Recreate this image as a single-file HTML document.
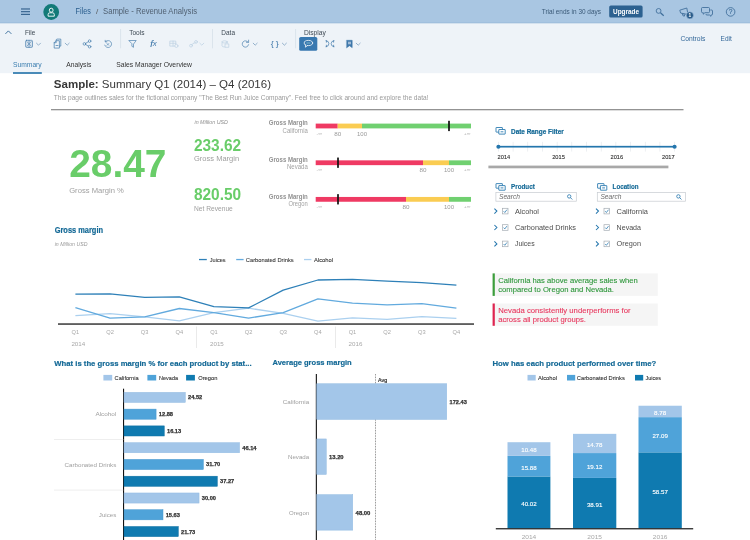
<!DOCTYPE html>
<html><head><meta charset="utf-8"><title>Sample - Revenue Analysis</title>
<style>
html,body{margin:0;padding:0;}
body{width:750px;height:540px;overflow:hidden;background:#fff;position:relative;font-family:"Liberation Sans",sans-serif;}
svg{position:absolute;left:0;top:0;display:block;will-change:transform;}
text{white-space:pre;}
</style></head><body>
<svg width="750" height="540" viewBox="0 0 750 540" font-family="'Liberation Sans', sans-serif">

<rect x="0.00" y="23.00" width="750.00" height="50.20" fill="#eef3f8" />
<rect x="0.00" y="0.00" width="750.00" height="23.20" fill="#a9c6e2" />
<rect x="0.00" y="22.20" width="750.00" height="1.00" fill="#9fbedb" />
<rect x="21.00" y="8.40" width="9.00" height="1.15" fill="#35628e" />
<rect x="21.00" y="11.10" width="9.00" height="1.15" fill="#35628e" />
<rect x="21.00" y="13.80" width="9.00" height="1.15" fill="#35628e" />
<circle cx="51.2" cy="12" r="7.9" fill="#137a78"/>
<ellipse cx="51.2" cy="10.2" rx="1.9" ry="2" fill="none" stroke="#fff" stroke-width="0.9"/>
<path d="M48.1 16.2 v-1.7 a1.7 1.7 0 0 1 1.7 -1.7 h2.8 a1.7 1.7 0 0 1 1.7 1.7 v1.7 z" fill="none" stroke="#fff" stroke-width="0.9"/>
<text x="75.50" y="14" font-size="8.2" fill="#285c8c" textLength="15.30" lengthAdjust="spacingAndGlyphs" >Files</text>
<text x="95.90" y="14" font-size="8" fill="#555" >/</text>
<text x="103.00" y="14" font-size="8.2" fill="#4f5f70" textLength="94.00" lengthAdjust="spacingAndGlyphs" >Sample - Revenue Analysis</text>
<text x="541.70" y="14" font-size="6.8" fill="#3b5a78" textLength="59.30" lengthAdjust="spacingAndGlyphs" >Trial ends in 30 days</text>
<rect x="609.20" y="5.40" width="33.40" height="12.20" fill="#2c6190" rx="1.6"/>
<text x="613.00" y="14" font-size="6.8" fill="#fff" font-weight="bold" textLength="26.00" lengthAdjust="spacingAndGlyphs" >Upgrade</text>
<g fill="none" stroke="#3d6d99" stroke-width="0.85">
<circle cx="658.6" cy="10.9" r="2.4"/><path d="M660.5 12.8 L663.7 15.7" stroke-width="1.2"/>
<path d="M679.8 10.2 l7 -2.2 l1.2 6.6 l-7.4 -1.6 z M682 13.2 l1.2 2.8 h1.5 l-0.9 -2.4"/>
<circle cx="689.9" cy="15.3" r="3.6" fill="#2a5c8a" stroke="#a9c6e2" stroke-width="0.6"/>
<path d="M702.5 7.5 h6 a1 1 0 0 1 1 1 v3.2 a1 1 0 0 1 -1 1 h-3.6 l-1.6 1.5 v-1.5 h-0.8 a1 1 0 0 1 -1 -1 v-3.2 a1 1 0 0 1 1 -1 z"/>
<path d="M710.3 10 h1.2 a1 1 0 0 1 1 1 v3 a1 1 0 0 1 -1 1 h-0.6 v1.3 l-1.4 -1.3 h-2.6 a1 1 0 0 1 -1 -1"/>
<circle cx="730.6" cy="11.9" r="4.3"/>
</g>
<text x="689.90" y="17" font-size="4.8" fill="#fff" font-weight="bold" text-anchor="middle" >1</text>
<text x="730.60" y="14" font-size="6.6" fill="#3d6d99" stroke="#3d6d99" stroke-width="0.15" text-anchor="middle" >?</text>
<text x="25.00" y="35" font-size="7.5" fill="#3f4a55" textLength="10.30" lengthAdjust="spacingAndGlyphs" >File</text>
<text x="129.20" y="35" font-size="7.5" fill="#3f4a55" textLength="15.30" lengthAdjust="spacingAndGlyphs" >Tools</text>
<text x="221.30" y="35" font-size="7.5" fill="#3f4a55" textLength="13.70" lengthAdjust="spacingAndGlyphs" >Data</text>
<text x="303.90" y="35" font-size="7.5" fill="#3f4a55" textLength="21.90" lengthAdjust="spacingAndGlyphs" >Display</text>
<text x="680.40" y="41" font-size="7" fill="#35699a" textLength="25.00" lengthAdjust="spacingAndGlyphs" >Controls</text>
<text x="720.60" y="41" font-size="7" fill="#35699a" textLength="11.20" lengthAdjust="spacingAndGlyphs" >Edit</text>
<rect x="120.35" y="29.00" width="0.70" height="19.30" fill="#d3dde7" />
<rect x="212.05" y="29.00" width="0.70" height="19.30" fill="#d3dde7" />
<rect x="295.35" y="29.00" width="0.70" height="19.30" fill="#d3dde7" />
<rect x="299.20" y="36.90" width="18.10" height="13.90" fill="#3878b0" rx="1.6"/>
<g fill="none" stroke="#3f78aa" stroke-width="0.65" stroke-linecap="round" stroke-linejoin="round">
<path d="M5.7 33.6 l2.7 -2.7 l2.7 2.7" stroke="#2f6796" stroke-width="0.9"/>
<rect x="25.6" y="40.3" width="6.9" height="7.1" rx="1" fill="#d9e4ee"/><path d="M26.9 41.6 l4.3 4.5 M31.2 41.6 l-4.3 4.5 M29.05 40.3 v7.1" stroke-width="0.55"/>
<path d="M36.5 43.2 l2 2 l2 -2" stroke="#6b93b8" stroke-width="0.7"/>
<path d="M54.2 47.699999999999996 v-5 l2 -2 h3.2 v7 z M56.2 40.699999999999996 v2 h-2 M55.8 40.1 l1 -1 h4 v7 h-1.2 M56 45.5 h2" stroke-width="0.7"/>
<path d="M65.2 43.2 l2 2 l2 -2" stroke="#6b93b8" stroke-width="0.7"/>
<circle cx="84.4" cy="43.9" r="1.3"/><circle cx="89.6" cy="41.1" r="1.3"/><circle cx="89.6" cy="46.699999999999996" r="1.3"/><path d="M85.6 43.3 l2.8 -1.6 M85.6 44.5 l2.8 1.6"/>
<path d="M105.6 41.5 a3.5 3.5 0 1 1 -0.9 3.6 M105.2 40.3 v1.6 h1.6"/><path d="M107 43.5 l1.8 1.8 M108.8 43.5 l-1.8 1.8" stroke-width="0.6"/>
<path d="M129.2 40.5 h7 l-2.7 3.6 v3.2 l-1.6 -1 v-2.2 z"/>
<g stroke="#b9cfe2"><rect x="170.2" y="41.1" width="5.6" height="5" /><path d="M170.2 43.3 h5.6 M173 41.1 v5"/><circle cx="176.4" cy="45.9" r="1.6" fill="#eef3f8"/></g>
<g stroke="#b9cfe2"><circle cx="191" cy="45.699999999999996" r="1.4"/><circle cx="196" cy="41.9" r="1.4"/><path d="M192 44.699999999999996 l1 -1.4 h1.4 l0.8 -0.8"/></g>
<path d="M199.8 43.2 l2 2 l2 -2" stroke="#b9cfe2" stroke-width="0.7"/>
<g stroke="#b9cfe2"><ellipse cx="224.6" cy="41.9" rx="2.6" ry="1.1"/><path d="M222 41.9 v4 a2.6 1.1 0 0 0 2.6 1.1 M227.2 41.9 v1.4"/><rect x="225.4" y="43.9" width="3.4" height="3.4" fill="#eef3f8"/></g>
<path d="M248.2 42.3 a3.2 3.2 0 1 0 0.4 2.4 M248.6 40.1 v2.2 h-2.2"/>
<path d="M253.2 43.2 l2 2 l2 -2" stroke="#6b93b8" stroke-width="0.7"/>
<path d="M282.4 43.2 l2 2 l2 -2" stroke="#6b93b8" stroke-width="0.7"/>
<ellipse cx="308.4" cy="43" rx="4.2" ry="2.6" stroke="#fff" stroke-width="0.75"/><path d="M305.6 45 l-0.2 2.2 l2.2 -1.7" stroke="#fff" stroke-width="0.75" fill="#3878b0"/><path d="M306.8 43 h3.2" stroke="#9fd0d8" stroke-width="0.7"/>
<path d="M326 40.7 q2.9 0.2 2.9 3 q0 2.8 -2.9 3 M334 40.7 q-2.9 0.2 -2.9 3 q0 2.8 2.9 3 M326.4 42.2 v-1.6 M326.4 45.2 v1.6 M333.6 42.2 v-1.6 M333.6 45.2 v1.6" stroke-width="0.7"/>
<path d="M346.8 40.3 h5.4 v7.4 l-2.7 -2 l-2.7 2 z" fill="#3f78aa" stroke-width="0.5"/><rect x="348" y="41.699999999999996" width="3" height="2.6" fill="#9fbbd6" stroke="none"/>
<path d="M356.2 43.2 l2 2 l2 -2" stroke="#6b93b8" stroke-width="0.7"/>
</g>
<text x="150.00" y="47" font-size="9.4" fill="#3f78aa" font-style="italic" textLength="6.80" lengthAdjust="spacingAndGlyphs" >f<tspan font-size="6.8" dx="-0.2" dy="-1">x</tspan></text>
<text x="270.80" y="46" font-size="8" fill="#3f78aa" textLength="7.90" lengthAdjust="spacingAndGlyphs" >{&#8201;}</text>
<text x="13.00" y="67" font-size="7.5" fill="#3d7fb0" textLength="28.70" lengthAdjust="spacingAndGlyphs" >Summary</text>
<rect x="13.00" y="72.00" width="28.80" height="2.00" fill="#4a8bb8" />
<text x="66.30" y="67" font-size="7.5" fill="#333" textLength="25.00" lengthAdjust="spacingAndGlyphs" >Analysis</text>
<text x="116.20" y="67" font-size="7.5" fill="#333" textLength="75.80" lengthAdjust="spacingAndGlyphs" >Sales Manager Overview</text>
<text x="53.80" y="88" font-size="11.6" fill="#383838" textLength="217.20" lengthAdjust="spacingAndGlyphs" ><tspan font-weight="bold">Sample:</tspan> Summary Q1 (2014) &#8211; Q4 (2016)</text>
<text x="53.80" y="100" font-size="6.3" fill="#999" textLength="374.70" lengthAdjust="spacingAndGlyphs" >This page outlines sales for the fictional company "The Best Run Juice Company". Feel free to click around and explore the data!</text>
<rect x="51.00" y="109.05" width="632.50" height="1.25" fill="#8e8e8e" />
<text x="69.20" y="177" font-size="38.6" fill="#69cd69" font-weight="bold" textLength="97.30" lengthAdjust="spacingAndGlyphs" >28.47</text>
<text x="69.20" y="193" font-size="7" fill="#a0a0a0" textLength="54.70" lengthAdjust="spacingAndGlyphs" >Gross Margin %</text>
<text x="194.50" y="124" font-size="5.3" fill="#909090" font-style="italic" textLength="33.40" lengthAdjust="spacingAndGlyphs" >in Million USD</text>
<text x="193.90" y="151" font-size="15.6" fill="#69cd69" font-weight="bold" textLength="47.30" lengthAdjust="spacingAndGlyphs" >233.62</text>
<text x="194.00" y="161" font-size="6.6" fill="#a0a0a0" textLength="45.10" lengthAdjust="spacingAndGlyphs" >Gross Margin</text>
<text x="193.90" y="200" font-size="15.6" fill="#69cd69" font-weight="bold" textLength="47.30" lengthAdjust="spacingAndGlyphs" >820.50</text>
<text x="194.00" y="211" font-size="6.6" fill="#a0a0a0" textLength="38.80" lengthAdjust="spacingAndGlyphs" >Net Revenue</text>
<text x="268.80" y="125" font-size="6.7" fill="#929292" font-weight="bold" textLength="39.00" lengthAdjust="spacingAndGlyphs" >Gross Margin</text>
<text x="282.60" y="133" font-size="6.7" fill="#a2a2a2" textLength="25.20" lengthAdjust="spacingAndGlyphs" >California</text>
<rect x="315.70" y="123.60" width="22.00" height="4.80" fill="#ef3a63" />
<rect x="337.70" y="123.60" width="24.30" height="4.80" fill="#facc52" />
<rect x="362.00" y="123.60" width="109.00" height="4.80" fill="#70d070" />
<rect x="448.15" y="120.80" width="1.70" height="10.30" fill="#111" />
<text x="316.60" y="135" font-size="4.4" fill="#aaa" textLength="5.60" lengthAdjust="spacingAndGlyphs" >-&#8734;</text>
<text x="463.80" y="135" font-size="4.4" fill="#aaa" textLength="6.80" lengthAdjust="spacingAndGlyphs" >+&#8734;</text>
<text x="334.20" y="136" font-size="6.2" fill="#999" textLength="7.00" lengthAdjust="spacingAndGlyphs" >80</text>
<text x="357.00" y="136" font-size="6.2" fill="#999" textLength="10.00" lengthAdjust="spacingAndGlyphs" >100</text>
<text x="268.80" y="162" font-size="6.7" fill="#929292" font-weight="bold" textLength="39.00" lengthAdjust="spacingAndGlyphs" >Gross Margin</text>
<text x="287.00" y="169" font-size="6.7" fill="#a2a2a2" textLength="20.80" lengthAdjust="spacingAndGlyphs" >Nevada</text>
<rect x="315.70" y="160.35" width="107.30" height="4.80" fill="#ef3a63" />
<rect x="423.00" y="160.35" width="26.00" height="4.80" fill="#facc52" />
<rect x="449.00" y="160.35" width="22.00" height="4.80" fill="#70d070" />
<rect x="337.15" y="157.55" width="1.70" height="10.30" fill="#111" />
<text x="316.60" y="171" font-size="4.4" fill="#aaa" textLength="5.60" lengthAdjust="spacingAndGlyphs" >-&#8734;</text>
<text x="463.80" y="171" font-size="4.4" fill="#aaa" textLength="6.80" lengthAdjust="spacingAndGlyphs" >+&#8734;</text>
<text x="419.50" y="172" font-size="6.2" fill="#999" textLength="7.00" lengthAdjust="spacingAndGlyphs" >80</text>
<text x="444.00" y="172" font-size="6.2" fill="#999" textLength="10.00" lengthAdjust="spacingAndGlyphs" >100</text>
<text x="268.80" y="199" font-size="6.7" fill="#929292" font-weight="bold" textLength="39.00" lengthAdjust="spacingAndGlyphs" >Gross Margin</text>
<text x="288.40" y="206" font-size="6.7" fill="#a2a2a2" textLength="19.40" lengthAdjust="spacingAndGlyphs" >Oregon</text>
<rect x="315.70" y="196.95" width="90.30" height="4.80" fill="#ef3a63" />
<rect x="406.00" y="196.95" width="43.00" height="4.80" fill="#facc52" />
<rect x="449.00" y="196.95" width="22.00" height="4.80" fill="#70d070" />
<rect x="337.15" y="194.15" width="1.70" height="10.30" fill="#111" />
<text x="316.60" y="208" font-size="4.4" fill="#aaa" textLength="5.60" lengthAdjust="spacingAndGlyphs" >-&#8734;</text>
<text x="463.80" y="208" font-size="4.4" fill="#aaa" textLength="6.80" lengthAdjust="spacingAndGlyphs" >+&#8734;</text>
<text x="402.50" y="209" font-size="6.2" fill="#999" textLength="7.00" lengthAdjust="spacingAndGlyphs" >80</text>
<text x="444.00" y="209" font-size="6.2" fill="#999" textLength="10.00" lengthAdjust="spacingAndGlyphs" >100</text>
<g fill="none" stroke="#2476ad" stroke-width="0.85"><rect x="496.00" y="127.50" width="6.4" height="4.6" rx="0.25"/><rect x="498.80" y="129.50" width="6.4" height="4.6" rx="0.25" fill="#fff"/><path d="M500.60 131.80 h2.8" /></g>
<text x="511.00" y="134" font-size="6.6" fill="#146996" stroke="#146996" stroke-width="0.2" font-weight="bold" textLength="52.70" lengthAdjust="spacingAndGlyphs" >Date Range Filter</text>
<rect x="498.10" y="141.80" width="0.60" height="9.80" fill="#e1e5e9" />
<rect x="512.78" y="141.80" width="0.60" height="9.80" fill="#e1e5e9" />
<rect x="527.47" y="141.80" width="0.60" height="9.80" fill="#e1e5e9" />
<rect x="542.15" y="141.80" width="0.60" height="9.80" fill="#e1e5e9" />
<rect x="556.83" y="141.80" width="0.60" height="9.80" fill="#e1e5e9" />
<rect x="571.52" y="141.80" width="0.60" height="9.80" fill="#e1e5e9" />
<rect x="586.20" y="141.80" width="0.60" height="9.80" fill="#e1e5e9" />
<rect x="600.88" y="141.80" width="0.60" height="9.80" fill="#e1e5e9" />
<rect x="615.57" y="141.80" width="0.60" height="9.80" fill="#e1e5e9" />
<rect x="630.25" y="141.80" width="0.60" height="9.80" fill="#e1e5e9" />
<rect x="644.93" y="141.80" width="0.60" height="9.80" fill="#e1e5e9" />
<rect x="659.62" y="141.80" width="0.60" height="9.80" fill="#e1e5e9" />
<rect x="674.30" y="141.80" width="0.60" height="9.80" fill="#e1e5e9" />
<rect x="498.40" y="145.85" width="176.20" height="1.70" fill="#2476ad" />
<circle cx="498.4" cy="146.7" r="2.05" fill="#2476ad"/><circle cx="674.6" cy="146.7" r="2.05" fill="#2476ad"/>
<text x="497.60" y="159" font-size="5.9" fill="#333" stroke="#333" stroke-width="0.12" textLength="12.60" lengthAdjust="spacingAndGlyphs" >2014</text>
<text x="552.20" y="159" font-size="5.9" fill="#333" stroke="#333" stroke-width="0.12" textLength="12.60" lengthAdjust="spacingAndGlyphs" >2015</text>
<text x="610.50" y="159" font-size="5.9" fill="#333" stroke="#333" stroke-width="0.12" textLength="12.60" lengthAdjust="spacingAndGlyphs" >2016</text>
<text x="662.00" y="159" font-size="5.9" fill="#333" stroke="#333" stroke-width="0.12" textLength="12.60" lengthAdjust="spacingAndGlyphs" >2017</text>
<rect x="488.40" y="165.60" width="180.00" height="2.70" fill="#a8a8a8" />
<g fill="none" stroke="#2476ad" stroke-width="0.85"><rect x="496.00" y="183.60" width="6.4" height="4.6" rx="0.25"/><rect x="498.80" y="185.60" width="6.4" height="4.6" rx="0.25" fill="#fff"/><path d="M500.60 187.90 h2.8" /></g>
<text x="511.00" y="189" font-size="6.6" fill="#146996" stroke="#146996" stroke-width="0.15" font-weight="bold" textLength="23.80" lengthAdjust="spacingAndGlyphs" >Product</text>
<rect x="495.90000000000003" y="192.5" width="80.4" height="8.7" fill="#fff" stroke="#c6cbd0" stroke-width="0.7"/>
<text x="499.00" y="199" font-size="6.6" fill="#6a6a6a" font-style="italic" textLength="21.00" lengthAdjust="spacingAndGlyphs" >Search</text>
<g fill="none" stroke="#2476ad" stroke-width="0.8"><circle cx="569.2" cy="196.4" r="1.7"/><path d="M570.4 197.6 l1.9 1.9"/></g>
<g fill="none" stroke="#2476ad"><path d="M494.4 208.6 l2.5 2.5 l-2.5 2.5" stroke-width="1.05"/><rect x="502.4" y="208.29999999999998" width="5.6" height="5.6" stroke="#a4abb2" stroke-width="0.7" fill="#fff"/><path d="M503.6 211.2 l1.2 1.3 l2.1 -2.8" stroke-width="0.75"/></g>
<text x="515.00" y="214" font-size="7.3" fill="#4d4d4d" textLength="24.00" lengthAdjust="spacingAndGlyphs" >Alcohol</text>
<g fill="none" stroke="#2476ad"><path d="M494.4 225.0 l2.5 2.5 l-2.5 2.5" stroke-width="1.05"/><rect x="502.4" y="224.7" width="5.6" height="5.6" stroke="#a4abb2" stroke-width="0.7" fill="#fff"/><path d="M503.6 227.6 l1.2 1.3 l2.1 -2.8" stroke-width="0.75"/></g>
<text x="515.00" y="230" font-size="7.3" fill="#4d4d4d" textLength="61.00" lengthAdjust="spacingAndGlyphs" >Carbonated Drinks</text>
<g fill="none" stroke="#2476ad"><path d="M494.4 241.39999999999998 l2.5 2.5 l-2.5 2.5" stroke-width="1.05"/><rect x="502.4" y="241.09999999999997" width="5.6" height="5.6" stroke="#a4abb2" stroke-width="0.7" fill="#fff"/><path d="M503.6 243.99999999999997 l1.2 1.3 l2.1 -2.8" stroke-width="0.75"/></g>
<text x="515.00" y="246" font-size="7.3" fill="#4d4d4d" textLength="19.60" lengthAdjust="spacingAndGlyphs" >Juices</text>
<g fill="none" stroke="#2476ad" stroke-width="0.85"><rect x="597.60" y="183.60" width="6.4" height="4.6" rx="0.25"/><rect x="600.40" y="185.60" width="6.4" height="4.6" rx="0.25" fill="#fff"/><path d="M602.20 187.90 h2.8" /></g>
<text x="612.60" y="189" font-size="6.6" fill="#146996" stroke="#146996" stroke-width="0.15" font-weight="bold" textLength="25.90" lengthAdjust="spacingAndGlyphs" >Location</text>
<rect x="597.3" y="192.5" width="88.19999999999996" height="8.7" fill="#fff" stroke="#c6cbd0" stroke-width="0.7"/>
<text x="600.40" y="199" font-size="6.6" fill="#6a6a6a" font-style="italic" textLength="21.00" lengthAdjust="spacingAndGlyphs" >Search</text>
<g fill="none" stroke="#2476ad" stroke-width="0.8"><circle cx="678.4" cy="196.4" r="1.7"/><path d="M679.5999999999999 197.6 l1.9 1.9"/></g>
<g fill="none" stroke="#2476ad"><path d="M596.0 208.6 l2.5 2.5 l-2.5 2.5" stroke-width="1.05"/><rect x="604.0" y="208.29999999999998" width="5.6" height="5.6" stroke="#a4abb2" stroke-width="0.7" fill="#fff"/><path d="M605.2 211.2 l1.2 1.3 l2.1 -2.8" stroke-width="0.75"/></g>
<text x="616.60" y="214" font-size="7.3" fill="#4d4d4d" textLength="31.40" lengthAdjust="spacingAndGlyphs" >California</text>
<g fill="none" stroke="#2476ad"><path d="M596.0 225.0 l2.5 2.5 l-2.5 2.5" stroke-width="1.05"/><rect x="604.0" y="224.7" width="5.6" height="5.6" stroke="#a4abb2" stroke-width="0.7" fill="#fff"/><path d="M605.2 227.6 l1.2 1.3 l2.1 -2.8" stroke-width="0.75"/></g>
<text x="616.60" y="230" font-size="7.3" fill="#4d4d4d" textLength="24.40" lengthAdjust="spacingAndGlyphs" >Nevada</text>
<g fill="none" stroke="#2476ad"><path d="M596.0 241.39999999999998 l2.5 2.5 l-2.5 2.5" stroke-width="1.05"/><rect x="604.0" y="241.09999999999997" width="5.6" height="5.6" stroke="#a4abb2" stroke-width="0.7" fill="#fff"/><path d="M605.2 243.99999999999997 l1.2 1.3 l2.1 -2.8" stroke-width="0.75"/></g>
<text x="616.60" y="246" font-size="7.3" fill="#4d4d4d" textLength="24.40" lengthAdjust="spacingAndGlyphs" >Oregon</text>
<text x="54.70" y="233" font-size="8.2" fill="#146996" stroke="#146996" stroke-width="0.2" font-weight="bold" textLength="48.30" lengthAdjust="spacingAndGlyphs" >Gross margin</text>
<text x="54.70" y="246" font-size="5.2" fill="#999" font-style="italic" textLength="32.80" lengthAdjust="spacingAndGlyphs" >in Million USD</text>
<rect x="199.00" y="258.90" width="7.80" height="1.30" fill="#2e80b8" />
<text x="209.80" y="262" font-size="5.9" fill="#333" stroke="#333" stroke-width="0.08" textLength="15.80" lengthAdjust="spacingAndGlyphs" >Juices</text>
<rect x="236.20" y="258.90" width="7.40" height="1.30" fill="#62aade" />
<text x="245.80" y="262" font-size="5.9" fill="#333" stroke="#333" stroke-width="0.08" textLength="47.90" lengthAdjust="spacingAndGlyphs" >Carbonated Drinks</text>
<rect x="304.00" y="258.90" width="7.40" height="1.30" fill="#abd0ef" />
<text x="314.00" y="262" font-size="5.9" fill="#333" stroke="#333" stroke-width="0.08" textLength="19.00" lengthAdjust="spacingAndGlyphs" >Alcohol</text>
<g fill="none" stroke-width="1.3" stroke-linejoin="round">
<polyline points="75.4,315.7 110.0,313.6 144.7,316.9 179.3,320.8 213.9,312.7 248.6,308.2 283.2,313.3 317.9,321.1 352.5,317.8 387.1,319.3 421.8,316.6 456.4,318.4" stroke="#abd0ef"/>
<polyline points="75.4,307.6 110.0,318.1 144.7,316.9 179.3,308.5 213.9,312.7 248.6,318.1 283.2,312.7 317.9,298.9 352.5,303.1 387.1,304.9 421.8,303.7 456.4,308.2" stroke="#62aade"/>
<polyline points="75.4,294.1 110.0,293.8 144.7,297.4 179.3,296.8 213.9,306.7 248.6,307.9 283.2,290.2 317.9,280.0 352.5,279.4 387.1,281.2 421.8,282.7 456.4,285.1" stroke="#2e80b8"/>
</g>
<rect x="58.00" y="323.35" width="416.00" height="1.40" fill="#2a2a2a" />
<text x="71.60" y="334" font-size="5.9" fill="#a8a8a8" textLength="7.60" lengthAdjust="spacingAndGlyphs" >Q1</text>
<text x="106.24" y="334" font-size="5.9" fill="#a8a8a8" textLength="7.60" lengthAdjust="spacingAndGlyphs" >Q2</text>
<text x="140.87" y="334" font-size="5.9" fill="#a8a8a8" textLength="7.60" lengthAdjust="spacingAndGlyphs" >Q3</text>
<text x="175.51" y="334" font-size="5.9" fill="#a8a8a8" textLength="7.60" lengthAdjust="spacingAndGlyphs" >Q4</text>
<text x="210.14" y="334" font-size="5.9" fill="#a8a8a8" textLength="7.60" lengthAdjust="spacingAndGlyphs" >Q1</text>
<text x="244.78" y="334" font-size="5.9" fill="#a8a8a8" textLength="7.60" lengthAdjust="spacingAndGlyphs" >Q2</text>
<text x="279.42" y="334" font-size="5.9" fill="#a8a8a8" textLength="7.60" lengthAdjust="spacingAndGlyphs" >Q3</text>
<text x="314.05" y="334" font-size="5.9" fill="#a8a8a8" textLength="7.60" lengthAdjust="spacingAndGlyphs" >Q4</text>
<text x="348.69" y="334" font-size="5.9" fill="#a8a8a8" textLength="7.60" lengthAdjust="spacingAndGlyphs" >Q1</text>
<text x="383.32" y="334" font-size="5.9" fill="#a8a8a8" textLength="7.60" lengthAdjust="spacingAndGlyphs" >Q2</text>
<text x="417.96" y="334" font-size="5.9" fill="#a8a8a8" textLength="7.60" lengthAdjust="spacingAndGlyphs" >Q3</text>
<text x="452.60" y="334" font-size="5.9" fill="#a8a8a8" textLength="7.60" lengthAdjust="spacingAndGlyphs" >Q4</text>
<text x="71.40" y="346" font-size="6.2" fill="#a8a8a8" textLength="13.80" lengthAdjust="spacingAndGlyphs" >2014</text>
<text x="210.00" y="346" font-size="6.2" fill="#a8a8a8" textLength="13.80" lengthAdjust="spacingAndGlyphs" >2015</text>
<text x="348.60" y="346" font-size="6.2" fill="#a8a8a8" textLength="13.80" lengthAdjust="spacingAndGlyphs" >2016</text>
<rect x="196.00" y="326.50" width="0.60" height="21.50" fill="#ddd" />
<rect x="335.20" y="326.50" width="0.60" height="21.50" fill="#ddd" />
<rect x="492.60" y="273.40" width="165.20" height="22.50" fill="#f5f5f5" />
<rect x="492.60" y="273.40" width="2.20" height="22.50" fill="#3c9e3c" />
<text x="498.20" y="283" font-size="7.7" fill="#2c9639" stroke="#2c9639" stroke-width="0.1" textLength="139.60" lengthAdjust="spacingAndGlyphs" >California has above average sales when</text>
<text x="498.20" y="292" font-size="7.7" fill="#2c9639" stroke="#2c9639" stroke-width="0.1" textLength="115.80" lengthAdjust="spacingAndGlyphs" >compared to Oregon and Nevada.</text>
<rect x="492.60" y="303.50" width="165.20" height="22.30" fill="#f5f5f5" />
<rect x="492.60" y="303.50" width="2.20" height="22.30" fill="#df2450" />
<text x="498.20" y="313" font-size="7.7" fill="#e8365d" stroke="#e8365d" stroke-width="0.1" textLength="132.40" lengthAdjust="spacingAndGlyphs" >Nevada consistently underperforms for</text>
<text x="498.20" y="322" font-size="7.7" fill="#e8365d" stroke="#e8365d" stroke-width="0.1" textLength="87.80" lengthAdjust="spacingAndGlyphs" >across all product groups.</text>
<text x="54.30" y="366" font-size="8" fill="#146996" stroke="#146996" stroke-width="0.2" font-weight="bold" textLength="197.30" lengthAdjust="spacingAndGlyphs" >What is the gross margin % for each product by stat...</text>
<rect x="103.40" y="374.90" width="8.80" height="5.60" fill="#a3c6e9" />
<text x="114.60" y="380" font-size="5.8" fill="#333" stroke="#333" stroke-width="0.1" textLength="24.00" lengthAdjust="spacingAndGlyphs" >California</text>
<rect x="147.40" y="374.90" width="8.80" height="5.60" fill="#4fa3d9" />
<text x="159.10" y="380" font-size="5.8" fill="#333" stroke="#333" stroke-width="0.1" textLength="18.90" lengthAdjust="spacingAndGlyphs" >Nevada</text>
<rect x="186.10" y="374.90" width="8.80" height="5.60" fill="#0f7ab0" />
<text x="198.20" y="380" font-size="5.8" fill="#333" stroke="#333" stroke-width="0.1" textLength="19.20" lengthAdjust="spacingAndGlyphs" >Oregon</text>
<rect x="123.00" y="388.70" width="1.10" height="152.00" fill="#111" />
<rect x="124.00" y="392.35" width="61.30" height="10.10" fill="#a3c6e9" stroke="#93bbe2" stroke-width="0.5"/>
<text x="188.05" y="399" font-size="5.6" fill="#333" stroke="#333" stroke-width="0.25" font-weight="bold" textLength="14.20" lengthAdjust="spacingAndGlyphs" >24.52</text>
<rect x="124.00" y="409.12" width="32.08" height="10.10" fill="#4fa3d9" stroke="#4096cf" stroke-width="0.5"/>
<text x="158.83" y="416" font-size="5.6" fill="#333" stroke="#333" stroke-width="0.25" font-weight="bold" textLength="14.20" lengthAdjust="spacingAndGlyphs" >12.88</text>
<rect x="124.00" y="425.89" width="40.24" height="10.10" fill="#0f7ab0" stroke="#0b6fa2" stroke-width="0.5"/>
<text x="166.99" y="433" font-size="5.6" fill="#333" stroke="#333" stroke-width="0.25" font-weight="bold" textLength="14.20" lengthAdjust="spacingAndGlyphs" >16.13</text>
<text x="95.40" y="416" font-size="6.2" fill="#9e9e9e" textLength="20.90" lengthAdjust="spacingAndGlyphs" >Alcohol</text>
<rect x="124.00" y="442.66" width="115.56" height="10.10" fill="#a3c6e9" stroke="#93bbe2" stroke-width="0.5"/>
<text x="242.31" y="450" font-size="5.6" fill="#333" stroke="#333" stroke-width="0.25" font-weight="bold" textLength="14.20" lengthAdjust="spacingAndGlyphs" >46.14</text>
<rect x="124.00" y="459.43" width="79.32" height="10.10" fill="#4fa3d9" stroke="#4096cf" stroke-width="0.5"/>
<text x="206.07" y="466" font-size="5.6" fill="#333" stroke="#333" stroke-width="0.25" font-weight="bold" textLength="14.20" lengthAdjust="spacingAndGlyphs" >31.70</text>
<rect x="124.00" y="476.20" width="93.30" height="10.10" fill="#0f7ab0" stroke="#0b6fa2" stroke-width="0.5"/>
<text x="220.05" y="483" font-size="5.6" fill="#333" stroke="#333" stroke-width="0.25" font-weight="bold" textLength="14.20" lengthAdjust="spacingAndGlyphs" >37.27</text>
<text x="64.50" y="467" font-size="6.2" fill="#9e9e9e" textLength="51.80" lengthAdjust="spacingAndGlyphs" >Carbonated Drinks</text>
<rect x="124.00" y="492.97" width="75.05" height="10.10" fill="#a3c6e9" stroke="#93bbe2" stroke-width="0.5"/>
<text x="201.80" y="500" font-size="5.6" fill="#333" stroke="#333" stroke-width="0.25" font-weight="bold" textLength="14.20" lengthAdjust="spacingAndGlyphs" >30.00</text>
<rect x="124.00" y="509.74" width="38.98" height="10.10" fill="#4fa3d9" stroke="#4096cf" stroke-width="0.5"/>
<text x="165.73" y="517" font-size="5.6" fill="#333" stroke="#333" stroke-width="0.25" font-weight="bold" textLength="14.20" lengthAdjust="spacingAndGlyphs" >15.63</text>
<rect x="124.00" y="526.51" width="54.29" height="10.10" fill="#0f7ab0" stroke="#0b6fa2" stroke-width="0.5"/>
<text x="181.04" y="534" font-size="5.6" fill="#333" stroke="#333" stroke-width="0.25" font-weight="bold" textLength="14.20" lengthAdjust="spacingAndGlyphs" >21.73</text>
<text x="98.80" y="517" font-size="6.2" fill="#9e9e9e" textLength="17.50" lengthAdjust="spacingAndGlyphs" >Juices</text>
<rect x="54.00" y="439.40" width="69.50" height="0.50" fill="#ddd" />
<rect x="54.00" y="489.80" width="69.50" height="0.50" fill="#ddd" />
<text x="272.50" y="365" font-size="8" fill="#146996" stroke="#146996" stroke-width="0.2" font-weight="bold" textLength="79.20" lengthAdjust="spacingAndGlyphs" >Average gross margin</text>
<rect x="315.80" y="374.00" width="1.10" height="166.00" fill="#111" />
<path d="M375.5 374 V540" stroke="#333" stroke-width="0.6" stroke-dasharray="0.8 0.8"/>
<text x="378.10" y="382" font-size="5.6" fill="#222" stroke="#222" stroke-width="0.15" textLength="9.20" lengthAdjust="spacingAndGlyphs" >Avg</text>
<rect x="316.80" y="383.75" width="129.95" height="35.70" fill="#a3c6e9" stroke="#93bbe2" stroke-width="0.5"/>
<text x="449.60" y="404" font-size="5.6" fill="#333" stroke="#333" stroke-width="0.25" font-weight="bold" textLength="17.20" lengthAdjust="spacingAndGlyphs" >172.43</text>
<text x="282.80" y="404" font-size="6.2" fill="#9e9e9e" textLength="26.40" lengthAdjust="spacingAndGlyphs" >California</text>
<rect x="316.80" y="438.95" width="9.45" height="35.50" fill="#a3c6e9" stroke="#93bbe2" stroke-width="0.5"/>
<text x="329.10" y="459" font-size="5.6" fill="#333" stroke="#333" stroke-width="0.25" font-weight="bold" textLength="14.50" lengthAdjust="spacingAndGlyphs" >13.20</text>
<text x="288.00" y="459" font-size="6.2" fill="#9e9e9e" textLength="21.20" lengthAdjust="spacingAndGlyphs" >Nevada</text>
<rect x="316.80" y="494.65" width="35.95" height="35.50" fill="#a3c6e9" stroke="#93bbe2" stroke-width="0.5"/>
<text x="355.60" y="515" font-size="5.6" fill="#333" stroke="#333" stroke-width="0.25" font-weight="bold" textLength="14.80" lengthAdjust="spacingAndGlyphs" >48.00</text>
<text x="289.00" y="515" font-size="6.2" fill="#9e9e9e" textLength="20.20" lengthAdjust="spacingAndGlyphs" >Oregon</text>
<text x="492.50" y="366" font-size="8" fill="#146996" stroke="#146996" stroke-width="0.2" font-weight="bold" textLength="163.80" lengthAdjust="spacingAndGlyphs" >How has each product performed over time?</text>
<rect x="527.50" y="374.90" width="8.20" height="5.60" fill="#a3c6e9" />
<text x="538.10" y="380" font-size="5.8" fill="#333" stroke="#333" stroke-width="0.1" textLength="18.90" lengthAdjust="spacingAndGlyphs" >Alcohol</text>
<rect x="567.00" y="374.90" width="8.20" height="5.60" fill="#4fa3d9" />
<text x="576.80" y="380" font-size="5.8" fill="#333" stroke="#333" stroke-width="0.1" textLength="48.00" lengthAdjust="spacingAndGlyphs" >Carbonated Drinks</text>
<rect x="635.00" y="374.90" width="8.20" height="5.60" fill="#0f7ab0" />
<text x="645.40" y="380" font-size="5.8" fill="#333" stroke="#333" stroke-width="0.1" textLength="15.60" lengthAdjust="spacingAndGlyphs" >Juices</text>
<rect x="507.50" y="476.47" width="42.90" height="52.03" fill="#0f7ab0" />
<text x="521.25" y="506" font-size="6" fill="#fff" stroke="#fff" stroke-width="0.12" textLength="15.40" lengthAdjust="spacingAndGlyphs" >40.02</text>
<rect x="507.50" y="455.83" width="42.90" height="20.64" fill="#4fa3d9" />
<text x="521.25" y="470" font-size="6" fill="#fff" stroke="#fff" stroke-width="0.12" textLength="15.40" lengthAdjust="spacingAndGlyphs" >15.88</text>
<rect x="507.50" y="442.21" width="42.90" height="13.62" fill="#a3c6e9" />
<text x="521.25" y="452" font-size="6" fill="#fff" stroke="#fff" stroke-width="0.12" textLength="15.40" lengthAdjust="spacingAndGlyphs" >10.48</text>
<text x="521.65" y="539" font-size="6.2" fill="#a8a8a8" textLength="14.60" lengthAdjust="spacingAndGlyphs" >2014</text>
<rect x="573.00" y="477.92" width="43.30" height="50.58" fill="#0f7ab0" />
<text x="586.95" y="507" font-size="6" fill="#fff" stroke="#fff" stroke-width="0.12" textLength="15.40" lengthAdjust="spacingAndGlyphs" >38.91</text>
<rect x="573.00" y="453.06" width="43.30" height="24.86" fill="#4fa3d9" />
<text x="586.95" y="469" font-size="6" fill="#fff" stroke="#fff" stroke-width="0.12" textLength="15.40" lengthAdjust="spacingAndGlyphs" >19.12</text>
<rect x="573.00" y="433.85" width="43.30" height="19.21" fill="#a3c6e9" />
<text x="586.95" y="447" font-size="6" fill="#fff" stroke="#fff" stroke-width="0.12" textLength="15.40" lengthAdjust="spacingAndGlyphs" >14.78</text>
<text x="587.35" y="539" font-size="6.2" fill="#a8a8a8" textLength="14.60" lengthAdjust="spacingAndGlyphs" >2015</text>
<rect x="638.50" y="452.36" width="43.30" height="76.14" fill="#0f7ab0" />
<text x="652.45" y="494" font-size="6" fill="#fff" stroke="#fff" stroke-width="0.12" textLength="15.40" lengthAdjust="spacingAndGlyphs" >58.57</text>
<rect x="638.50" y="417.14" width="43.30" height="35.22" fill="#4fa3d9" />
<text x="652.45" y="438" font-size="6" fill="#fff" stroke="#fff" stroke-width="0.12" textLength="15.40" lengthAdjust="spacingAndGlyphs" >27.09</text>
<rect x="638.50" y="405.73" width="43.30" height="11.41" fill="#a3c6e9" />
<text x="654.05" y="415" font-size="6" fill="#fff" stroke="#fff" stroke-width="0.12" textLength="12.20" lengthAdjust="spacingAndGlyphs" >8.78</text>
<text x="652.85" y="539" font-size="6.2" fill="#a8a8a8" textLength="14.60" lengthAdjust="spacingAndGlyphs" >2016</text>
<rect x="495.80" y="528.10" width="197.40" height="1.30" fill="#2a2a2a" />
</svg></body></html>
